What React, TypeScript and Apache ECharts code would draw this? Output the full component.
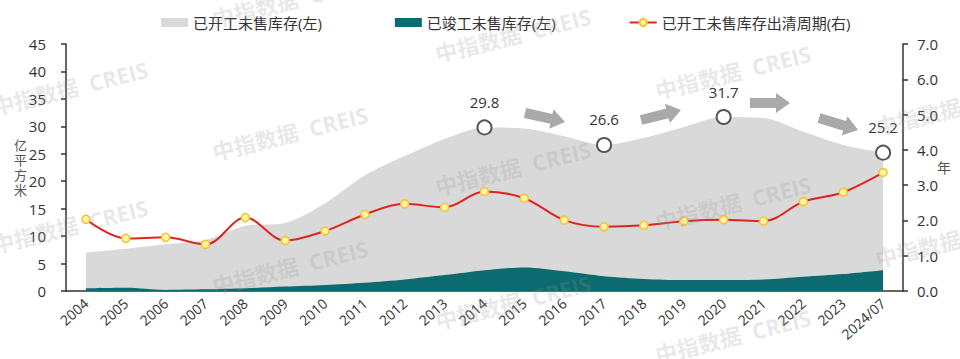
import React, { useEffect, useRef } from "react";
import * as echarts from "echarts";

const categories = ["2004", "2005", "2006", "2007", "2008", "2009", "2010", "2011", "2012", "2013", "2014", "2015", "2016", "2017", "2018", "2019", "2020", "2021", "2022", "2023", "2024/07"];
const startedUnsold = [7.0, 7.7, 8.5, 9.3, 11.9, 12.4, 16.0, 21.1, 24.6, 27.7, 29.8, 29.6, 28.2, 26.6, 27.9, 29.9, 31.7, 31.5, 29.0, 26.6, 25.2];
const completedUnsold = [0.5, 0.6, 0.2, 0.3, 0.5, 0.8, 1.1, 1.5, 2.1, 2.9, 3.8, 4.3, 3.6, 2.7, 2.2, 2.0, 2.0, 2.1, 2.6, 3.1, 3.8];
const clearanceCycle = [2.03, 1.49, 1.52, 1.32, 2.08, 1.43, 1.7, 2.17, 2.47, 2.37, 2.82, 2.63, 2.01, 1.82, 1.86, 1.98, 2.02, 1.98, 2.53, 2.8, 3.36];
const highlightIndices = [10, 13, 16, 20];
const leftTicks = { min: 0, max: 45, interval: 5 };
const rightTicks = { min: 0, max: 7, interval: 1 };
const seriesNames = ["已开工未售库存(左)", "已竣工未售库存(左)", "已开工未售库存出清周期(右)"];

const FONT = "'Open Sans', 'Noto Sans CJK SC', sans-serif";

// decorative arrows [x1, y1, x2, y2]
const arrows = [
  [525, 113, 565, 122],
  [641, 120, 681, 110],
  [750, 103, 790, 103],
  [819, 118, 858, 130],
];
// watermark centres
const watermarks = [
  [70, 88], [70, 226], [290, 0], [290, 133], [290, 267], [513, 35], [513, 168], [513, 302],
  [733, 72], [733, 203], [733, 336], [953, 108], [953, 240],
];

function arrowPoints(x1: number, y1: number, x2: number, y2: number) {
  const dx = x2 - x1, dy = y2 - y1;
  const len = Math.hypot(dx, dy);
  const ux = dx / len, uy = dy / len;
  const nx = -uy, ny = ux;
  const bw = 5, hw = 10, hl = 14;
  const bx = x2 - ux * hl, by = y2 - uy * hl;
  return [
    [x1 + nx * bw, y1 + ny * bw],
    [bx + nx * bw, by + ny * bw],
    [bx + nx * hw, by + ny * hw],
    [x2, y2],
    [bx - nx * hw, by - ny * hw],
    [bx - nx * bw, by - ny * bw],
    [x1 - nx * bw, y1 - ny * bw],
  ];
}

export default function App() {
  const ref = useRef<HTMLDivElement>(null);
  useEffect(() => {
    if (!ref.current) return;
    const chart = echarts.init(ref.current, undefined, { renderer: "svg" });
    const lastIdx = categories.length - 1;
    const highlightData = categories.map((_, i) => (highlightIndices.includes(i) ? startedUnsold[i] : "-"));
    const completedData = completedUnsold.map((v, i) =>
      i === lastIdx
        ? { value: v, label: { show: true, position: "top", offset: [-3, -1], distance: 4, color: "#333", fontSize: 15, fontFamily: FONT } }
        : v
    );
    const graphics: any[] = [];
    arrows.forEach(([a, b, c, d]) => {
      graphics.push({ type: "polygon", shape: { points: arrowPoints(a, b, c, d) }, style: { fill: "#a9a9a9" }, z: 50 });
    });
    watermarks.forEach(([x, y]) => {
      graphics.push({
        type: "text",
        x, y,
        rotation: (14 * Math.PI) / 180,
        style: { text: "中指数据  CREIS", fill: "rgba(150,150,150,0.22)", font: `bold 22px ${FONT}`, align: "center", verticalAlign: "middle" },
        z: 100,
        silent: true,
      });
    });
    chart.setOption({
      animation: false,
      textStyle: { fontFamily: FONT },
      grid: { left: 66, right: 57, top: 44, bottom: 68 },
      legend: {
        top: 10,
        left: 156,
        itemGap: 73,
        itemWidth: 27,
        itemHeight: 9,
        textStyle: { fontSize: 15, color: "#333", fontFamily: FONT },
        data: [
          { name: seriesNames[0], icon: "rect" },
          { name: seriesNames[1], icon: "rect" },
          { name: seriesNames[2] },
        ],
      },
      xAxis: {
        type: "category",
        data: categories,
        boundaryGap: true,
        axisLine: { lineStyle: { color: "#333", width: 1.5 } },
        axisTick: { show: false },
        axisLabel: { rotate: 42, fontSize: 14, color: "#333", margin: 10, interval: 0 },
      },
      yAxis: [
        {
          type: "value",
          ...leftTicks,
          name: "亿\n平\n方\n米",
          nameLocation: "middle",
          nameRotate: 0,
          nameGap: 39,
          nameMoveOverlap: false,
          nameTextStyle: { fontSize: 13, color: "#555", lineHeight: 15 },
          axisLine: { show: true, lineStyle: { color: "#333", width: 1.5 } },
          axisTick: { show: true, length: 5, lineStyle: { color: "#333", width: 1.5 } },
          axisLabel: { fontSize: 15, color: "#333", margin: 20 },
          splitLine: { show: false },
        },
        {
          type: "value",
          ...rightTicks,
          position: "right",
          name: "年",
          nameLocation: "middle",
          nameRotate: 0,
          nameGap: 34,
          nameMoveOverlap: false,
          nameTextStyle: { fontSize: 14, color: "#555" },
          axisLine: { show: true, lineStyle: { color: "#333", width: 1.5 } },
          axisTick: { show: true, length: 5, lineStyle: { color: "#333", width: 1.5 } },
          axisLabel: { fontSize: 15, color: "#333", margin: 14, formatter: (v: number) => v.toFixed(1) },
          splitLine: { show: false },
        },
      ],
      series: [
        {
          name: seriesNames[0],
          type: "line",
          data: startedUnsold,
          smooth: 0.3,
          symbol: "none",
          lineStyle: { width: 0 },
          itemStyle: { color: "#d9d9d9" },
          areaStyle: { color: "#d9d9d9", opacity: 1 },
          z: 1,
        },
        {
          name: seriesNames[1],
          type: "line",
          data: completedData,
          smooth: 0.3,
          symbol: "none",
          lineStyle: { width: 0 },
          itemStyle: { color: "#0b6b70" },
          areaStyle: { color: "#0b6b70", opacity: 1 },
          z: 2,
        },
        {
          name: seriesNames[2],
          type: "line",
          yAxisIndex: 1,
          data: clearanceCycle,
          smooth: 0.35,
          symbol: "circle",
          symbolSize: 8,
          lineStyle: { color: "#e0241e", width: 2 },
          itemStyle: { color: "#fff4a8", borderColor: "#f2c530", borderWidth: 1.5 },
          z: 4,
        },
        {
          name: "highlight",
          type: "scatter",
          data: highlightData,
          symbol: "circle",
          symbolSize: 14,
          itemStyle: { color: "#ffffff", borderColor: "#555", borderWidth: 2, opacity: 1 },
          label: { show: true, position: "top", distance: 10, color: "#333", fontSize: 15, formatter: (p: any) => Number(p.value).toFixed(1) },
          z: 5,
        },
      ],
      graphic: graphics,
    });
    return () => chart.dispose();
  }, []);
  return <div ref={ref} style={{ position: "absolute", left: 0, top: 0, width: 960, height: 359 }} />;
}
